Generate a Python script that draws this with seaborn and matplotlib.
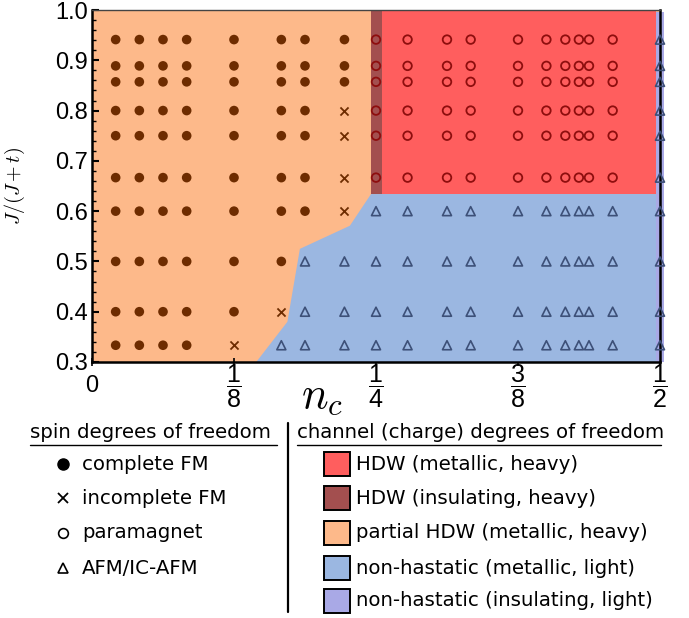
import numpy as np
import pandas as pd
import matplotlib
matplotlib.use("Agg")
import matplotlib.pyplot as plt
from matplotlib.patches import Rectangle, Polygon
import seaborn as sns

sns.set_theme(style="white")
plt.rcParams['font.family'] = ['DejaVu Sans']
plt.rcParams['text.color'] = 'black'
plt.rcParams['axes.labelcolor'] = 'black'
plt.rcParams['ytick.color'] = 'black'
plt.rcParams['xtick.color'] = 'black'
plt.rcParams['mathtext.fontset'] = 'cm'
plt.rcParams['mathtext.rm'] = 'Liberation Sans'
plt.rcParams['mathtext.it'] = 'Liberation Sans:italic'
plt.rcParams['mathtext.bf'] = 'Liberation Sans:bold'

# ---- data ----
n_cols = [1/48, 1/24, 1/16, 1/12, 1/8, 1/6, 3/16, 2/9, 1/4, 5/18, 5/16, 1/3,
          3/8, 2/5, 5/12, 3/7, 7/16, 11/24, 1/2]
J_rows = [16/17, 8/9, 6/7, 4/5, 3/4, 2/3, 3/5, 1/2, 2/5, 1/3]
# phase per (row, column): F = complete FM, X = incomplete FM, P = paramagnet, A = AFM/IC-AFM
phase_grid = [
    "FFFFFFFFPPPPPPPPPPA",   # 16/17
    "FFFFFFFFPPPPPPPPPPA",   # 8/9
    "FFFFFFFFPPPPPPPPPPA",   # 6/7
    "FFFFFFFXPPPPPPPPPPA",   # 4/5
    "FFFFFFFXPPPPPPPPPPA",   # 3/4
    "FFFFFFFXPPPPPPPPPPA",   # 2/3
    "FFFFFFFXAAAAAAAAAAA",   # 3/5
    "FFFFFFAAAAAAAAAAAAA",   # 1/2
    "FFFFFXAAAAAAAAAAAAA",   # 2/5
    "FFFFXAAAAAAAAAAAAAA",   # 1/3
]

# phase boundaries
pd_blue_n = [0.1446, 0.172, 0.183, 0.227, 0.2456, 0.4965, 0.4965]
pd_blue_J = [0.30, 0.38, 0.525, 0.571, 0.634, 0.634, 0.30]
hdw_ins_n = [0.2456, 0.2553]
hdw_met_n = [0.2553, 0.4965]
hdw_J = [0.634, 1.0]
nh_ins_n = [0.4965, 0.5035]

x_ticks = [0, 1/8, 1/4, 3/8, 1/2]
x_ticklabels = ['0', r'$\dfrac{1}{8}$', r'$\dfrac{1}{4}$', r'$\dfrac{3}{8}$', r'$\dfrac{1}{2}$']
y_ticks = [0.3, 0.4, 0.5, 0.6, 0.7, 0.8, 0.9, 1.0]

spin_labels = ['complete FM', 'incomplete FM', 'paramagnet', 'AFM/IC-AFM']
charge_labels = ['HDW (metallic, heavy)', 'HDW (insulating, heavy)',
                 'partial HDW (metallic, heavy)', 'non-hastatic (metallic, light)',
                 'non-hastatic (insulating, light)']

c_peach = '#FDB98A'
c_red = '#FF5E5E'
c_dark = '#A34F4F'
c_blue = '#9BB7E1'
c_lav = '#A9A9E6'
charge_colors = [c_red, c_dark, c_peach, c_blue, c_lav]

rows = []
for J, line in zip(J_rows, phase_grid):
    for n, p in zip(n_cols, line):
        rows.append([n, J, p])
df = pd.DataFrame(rows, columns=['n', 'J', 'phase'])

fig = plt.figure(figsize=(6.89, 6.18), dpi=100)
ax = fig.add_axes([92/689, 1 - 362/618, 568/689, 352/618])
ax.set_xlim(0, 0.5)
ax.set_ylim(0.3, 1.0)

# regions
ax.add_patch(Rectangle((0, 0.3), 0.5, 0.7, color=c_peach, lw=0, zorder=0))
ax.add_patch(Polygon(np.column_stack([pd_blue_n, pd_blue_J]), closed=True,
                     color=c_blue, lw=0, zorder=1))
ax.add_patch(Rectangle((hdw_met_n[0], hdw_J[0]), hdw_met_n[1] - hdw_met_n[0],
                       hdw_J[1] - hdw_J[0], color=c_red, lw=0, zorder=1))
ax.add_patch(Rectangle((hdw_ins_n[0], hdw_J[0]), hdw_ins_n[1] - hdw_ins_n[0],
                       hdw_J[1] - hdw_J[0], color=c_dark, lw=0, zorder=1))
ax.add_patch(Rectangle((nh_ins_n[0], 0.3), nh_ins_n[1] - nh_ins_n[0], 0.696,
                       color=c_lav, lw=0, zorder=1, clip_on=False))

# points
sub = df[df.phase == 'F']
sns.scatterplot(data=sub, x='n', y='J', ax=ax, marker='o', s=48, color='#6E2C00',
                edgecolor='none', zorder=3, legend=False)
sub = df[df.phase == 'X']
sns.scatterplot(data=sub, x='n', y='J', ax=ax, marker='x', s=34, color='#6E2C00',
                linewidth=1.3, zorder=3, legend=False)
sub = df[df.phase == 'P']
sns.scatterplot(data=sub, x='n', y='J', ax=ax, marker='o', s=38, color='#8E0E0E',
                facecolor='none', edgecolor='#8E0E0E', linewidth=1.3, zorder=3, legend=False)
sub = df[df.phase == 'A']
sns.scatterplot(data=sub, x='n', y='J', ax=ax, marker='^', s=42, color='#3D5078',
                facecolor='none', edgecolor='#3D5078', linewidth=1.2, zorder=3,
                legend=False, clip_on=False)

# axes styling
for side in ['left', 'bottom', 'right']:
    ax.spines[side].set_color('black')
    ax.spines[side].set_linewidth(1.8)
ax.spines['top'].set_color('#444444')
ax.spines['top'].set_linewidth(1.0)
ax.set_yticks(y_ticks)
ax.set_yticklabels([f'{v:.1f}' for v in y_ticks], fontfamily='Liberation Sans', fontsize=17)
ax.set_yticks(np.arange(0.3, 1.0001, 0.02), minor=True)
ax.set_xticks(x_ticks)
ax.set_xticklabels([])
ax.tick_params(axis='y', which='major', direction='in', length=5, width=1.5, pad=3,
               left=True, right=False)
ax.tick_params(axis='y', which='minor', direction='in', length=3, width=1.0, left=True)
ax.tick_params(axis='x', which='major', direction='inout', length=6, width=1.2, bottom=True)
for xt, lab in zip(x_ticks, x_ticklabels):
    ax.text(xt, -0.068, lab, transform=ax.get_xaxis_transform(), ha='center', va='center',
            fontsize=17 if lab == '0' else 18, fontfamily='Liberation Sans',
            math_fontfamily='custom')

ax.set_ylabel(r'$J/(J+t)$', fontsize=14.5, math_fontfamily='cm')
ax.yaxis.set_label_coords(-(92 - 27) / 568, 0.5)
ax.set_xlabel(r'$n_c$', fontsize=32, math_fontfamily='cm')
ax.xaxis.set_label_coords((322 - 92) / 568, -(395 - 362) / 352)
ax.xaxis.label.set_va('center')

# legend area (figure pixel coordinates)
lax = fig.add_axes([0, 0, 1, 1], zorder=-1)
lax.set_xlim(0, 689)
lax.set_ylim(618, 0)
lax.axis('off')

fs = 14.2
lax.text(30, 432, 'spin degrees of freedom', fontsize=fs, va='center', ha='left')
lax.plot([30, 277], [445, 445], color='black', lw=1.0)
ys = [464, 498, 533, 568]
lax.plot(63, ys[0], marker='o', ms=8, color='black', ls='none')
lax.plot(63, ys[1], marker='x', ms=6.5, mew=1.3, color='black', ls='none')
lax.plot(63, ys[2], marker='o', ms=7, mfc='none', mec='black', mew=1.2, ls='none')
lax.plot(63, ys[3], marker='^', ms=7, mfc='none', mec='black', mew=1.2, ls='none')
for y, lab in zip(ys, spin_labels):
    lax.text(82, y, lab, fontsize=fs, va='center', ha='left')

lax.plot([288, 288], [423, 612], color='black', lw=1.6)

lax.text(297, 432, 'channel (charge) degrees of freedom', fontsize=fs, va='center', ha='left')
lax.plot([297, 661], [445, 445], color='black', lw=1.0)
ys2 = [464, 498, 533, 568, 601]
for y, lab, col in zip(ys2, charge_labels, charge_colors):
    lax.add_patch(Rectangle((324, y - 12), 26, 24, facecolor=col, edgecolor='black', lw=1.4))
    lax.text(356, y, lab, fontsize=fs, va='center', ha='left')

fig.savefig('out.png', dpi=100)
